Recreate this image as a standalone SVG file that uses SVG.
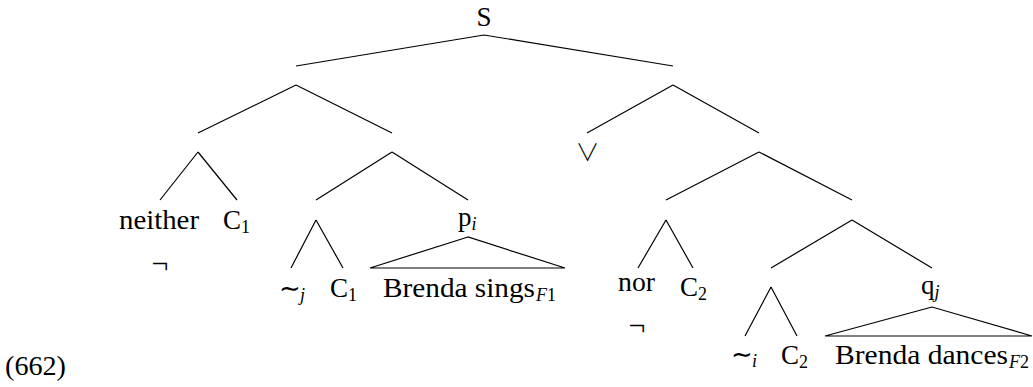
<svg xmlns="http://www.w3.org/2000/svg" width="1033" height="387" viewBox="0 0 1033 387">
<style>
  text{font-family:'Liberation Serif','Times New Roman',serif;font-size:27px;fill:#000}
  .s{font-size:18px}
  .it{font-style:italic}
  .sym{font-family:'Noto Sans CJK JP','Noto Sans CJK SC','DejaVu Sans',sans-serif;font-size:24px;font-weight:300}
  .tl{font-family:'DejaVu Sans',sans-serif;font-size:26px}
  .neg{font-size:30px}
  .e{stroke:#000;stroke-width:1.2;fill:none;stroke-linejoin:miter}
</style>
<rect width="1033" height="387" fill="#fff"/>
<g id="connectors" class="e">
  <path d="M484 35L296 66M484 35L673 66"/>
  <path d="M296 85L198 133M296 85L392 133"/>
  <path d="M673 85L587 133M673 85L759 133"/>
  <path d="M198 152L160 200M198 152L237 200"/>
  <path d="M392 152L316 200M392 152L468 200"/>
  <path d="M759 152L666 200M759 152L852 200"/>
  <path d="M316 220L291 268M316 220L343 268"/>
  <path d="M468 237L370 268L565 268Z"/>
  <path d="M666 220L638 268M666 220L693 268"/>
  <path d="M852 220L771 268M852 220L932 268"/>
  <path d="M771 287L745 336M771 287L797 336"/>
  <path d="M932 307L825 336L1032 336Z"/>
</g>
<g id="node-S"><text x="484" y="26" text-anchor="middle">S</text></g>
<g id="node-neither">
  <text x="119" y="229" textLength="80" lengthAdjust="spacingAndGlyphs">neither</text>
  <text class="neg" x="160" y="273" text-anchor="middle">¬</text>
</g>
<g id="node-C1a"><text x="223" y="229">C<tspan class="s" dy="4">1</tspan></text></g>
<g id="node-pi"><text x="458" y="226">p<tspan class="s it" dy="4">i</tspan></text></g>
<g id="node-tj"><text x="279" y="297"><tspan class="tl">∼</tspan><tspan class="s it" x="300" dy="4">j</tspan></text></g>
<g id="node-C1b"><text x="330" y="297">C<tspan class="s" dy="4">1</tspan></text></g>
<g id="node-sings"><text x="383" y="297"><tspan textLength="152" lengthAdjust="spacingAndGlyphs">Brenda sings</tspan><tspan class="s" x="536" dy="4"><tspan class="it">F</tspan>1</tspan></text></g>
<g id="node-or"><text class="sym" x="587.5" y="161" text-anchor="middle">∨</text></g>
<g id="node-nor">
  <text x="618" y="291" textLength="37" lengthAdjust="spacingAndGlyphs">nor</text>
  <text class="neg" x="637" y="335" text-anchor="middle">¬</text>
</g>
<g id="node-C2a"><text x="680" y="296">C<tspan class="s" dy="4">2</tspan></text></g>
<g id="node-qj"><text x="921" y="294">q<tspan class="s it" dy="4">j</tspan></text></g>
<g id="node-ti"><text x="731" y="363"><tspan class="tl">∼</tspan><tspan class="s it" x="752" dy="4">i</tspan></text></g>
<g id="node-C2b"><text x="781" y="364">C<tspan class="s" dy="4">2</tspan></text></g>
<g id="node-dances"><text x="835" y="364"><tspan textLength="173" lengthAdjust="spacingAndGlyphs">Brenda dances</tspan><tspan class="s" x="1009" dy="4"><tspan class="it">F</tspan>2</tspan></text></g>
<g id="label-662"><text x="5" y="375" style="font-size:28px" textLength="61" lengthAdjust="spacingAndGlyphs">(662)</text></g>
</svg>
